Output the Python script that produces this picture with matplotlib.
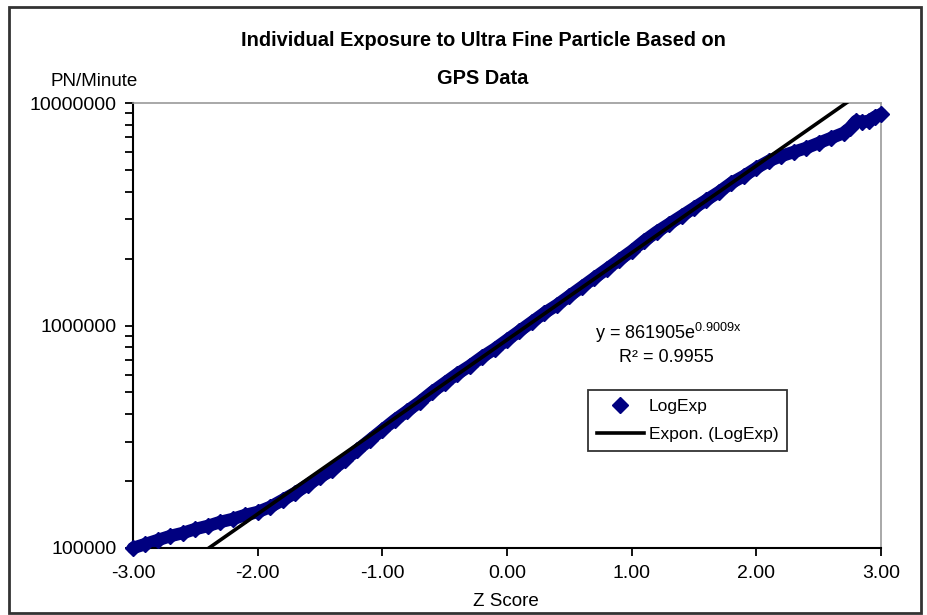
import numpy as np
import matplotlib
matplotlib.use("Agg")
import matplotlib.pyplot as plt
from matplotlib.ticker import FixedLocator, FuncFormatter, LogLocator, NullFormatter
from matplotlib.patches import Rectangle

plt.rcParams['font.family'] = ['Liberation Sans', 'DejaVu Sans']

# ---- data ----
z_score = [-3.0, -2.9, -2.8, -2.7, -2.6, -2.5, -2.4, -2.3, -2.2, -2.1,
           -2.0, -1.9, -1.8, -1.7, -1.6, -1.5, -1.4, -1.3, -1.2, -1.1,
           -1.0, -0.9, -0.8, -0.7, -0.6, -0.5, -0.4, -0.3, -0.2, -0.1,
           0.0, 0.1, 0.2, 0.3, 0.4, 0.5, 0.6, 0.7, 0.8, 0.9,
           1.0, 1.1, 1.2, 1.3, 1.4, 1.5, 1.6, 1.7, 1.8, 1.9,
           2.0, 2.1, 2.2, 2.3, 2.4, 2.5, 2.6, 2.7, 2.75, 2.8,
           2.85, 2.9, 2.95, 3.0]
pn_minute = [100000, 104200, 108600, 113200, 116800, 121700, 125600, 130900, 135000, 140700,
             145100, 152900, 164300, 176700, 191900, 208500, 224200, 248600, 275700, 305800,
             339200, 376200, 412800, 453200, 502600, 551600, 605300, 657700, 721800, 784300,
             860800, 944700, 1036800, 1138000, 1236000, 1357000, 1489000, 1635000, 1794000, 1970000,
             2161000, 2398000, 2632000, 2859000, 3105000, 3374000, 3665000, 3981000, 4370000, 4697000,
             5104000, 5486000, 5778000, 6023000, 6278000, 6611000, 6962000, 7332000, 7721000, 8300000,
             8215000, 8300000, 8652000, 8900000]
fit_a = 861905
fit_b = 0.9009
r_squared = 0.9955
x_ticks = [-3, -2, -1, 0, 1, 2, 3]
y_ticks = [100000, 1000000, 10000000]

title_line1 = "Individual Exposure to Ultra Fine Particle Based on"
title_line2 = "GPS Data"
series_name = "LogExp"
trend_name = "Expon. (LogExp)"

# ---- figure ----
fig = plt.figure(figsize=(9.28, 6.15), dpi=100)
W, H = 928, 615
ax = fig.add_axes([133 / W, 1 - 548 / H, (881 - 133) / W, (548 - 103) / H])

navy = "#000080"
ax.plot(z_score, pn_minute, color=navy, lw=9, solid_capstyle='round',
        solid_joinstyle='round', zorder=2, clip_on=False)
ax.plot(z_score, pn_minute, linestyle='none', marker='D', ms=8, color=navy,
        label=series_name, zorder=3, clip_on=False)

xf = np.linspace(-3, 3, 200)
ax.plot(xf, fit_a * np.exp(fit_b * xf), color='black', lw=2.6, label=trend_name, zorder=4)

ax.set_yscale('log')
ax.set_xlim(-3, 3)
ax.set_ylim(1e5, 1e7)

ax.xaxis.set_major_locator(FixedLocator(x_ticks))
ax.xaxis.set_major_formatter(FuncFormatter(lambda v, p: f"{v:.2f}"))
ax.yaxis.set_major_locator(FixedLocator(y_ticks))
ax.yaxis.set_major_formatter(FuncFormatter(lambda v, p: f"{int(round(v))}"))
ax.yaxis.set_minor_locator(LogLocator(base=10, subs=np.arange(2, 10)))
ax.yaxis.set_minor_formatter(NullFormatter())

ax.tick_params(axis='both', which='both', direction='out', length=6, width=1.3,
               labelsize=14, colors='black')
ax.tick_params(axis='x', pad=6)
ax.tick_params(axis='y', pad=6)

for s in ['left', 'bottom']:
    ax.spines[s].set_color('black')
    ax.spines[s].set_linewidth(1.5)
for s in ['top', 'right']:
    ax.spines[s].set_color('#999999')
    ax.spines[s].set_linewidth(1.2)

fig.text(483 / W, 1 - 41 / H, title_line1, ha='center', va='center', fontsize=14.4,
         fontweight='bold')
fig.text(483 / W, 1 - 78 / H, title_line2, ha='center', va='center', fontsize=14.4,
         fontweight='bold')
fig.text(94 / W, 1 - 81 / H, "PN/Minute", ha='center', va='center', fontsize=13.5)
fig.text(506 / W, 1 - 602 / H, "Z Score", ha='center', va='center', fontsize=13.5)

ax.text((668 - 133) / 748, (548 - 333) / 445,
        f"y = {fit_a}e$^{{\\mathregular{{{fit_b}x}}}}$",
        transform=ax.transAxes, ha='center', va='center', fontsize=13)
ax.text((666 - 133) / 748, (548 - 357) / 445, f"R² = {r_squared}",
        transform=ax.transAxes, ha='center', va='center', fontsize=13)

leg = ax.legend(loc='upper left', bbox_to_anchor=((588 - 133) / 748, 1 - (390 - 103) / 445),
                frameon=True, fancybox=False, edgecolor='black', fontsize=12.5,
                handlelength=2.7, borderpad=0.5, labelspacing=0.75, handletextpad=0.3,
                borderaxespad=0)
leg.get_frame().set_linewidth(1.3)

# chart-area frame
fig.patches.append(Rectangle((9 / W, 1 - 613 / H), (921 - 9) / W, (613 - 7) / H,
                             transform=fig.transFigure, fill=False,
                             edgecolor='#333333', lw=2))

fig.savefig("out.png", dpi=100)
